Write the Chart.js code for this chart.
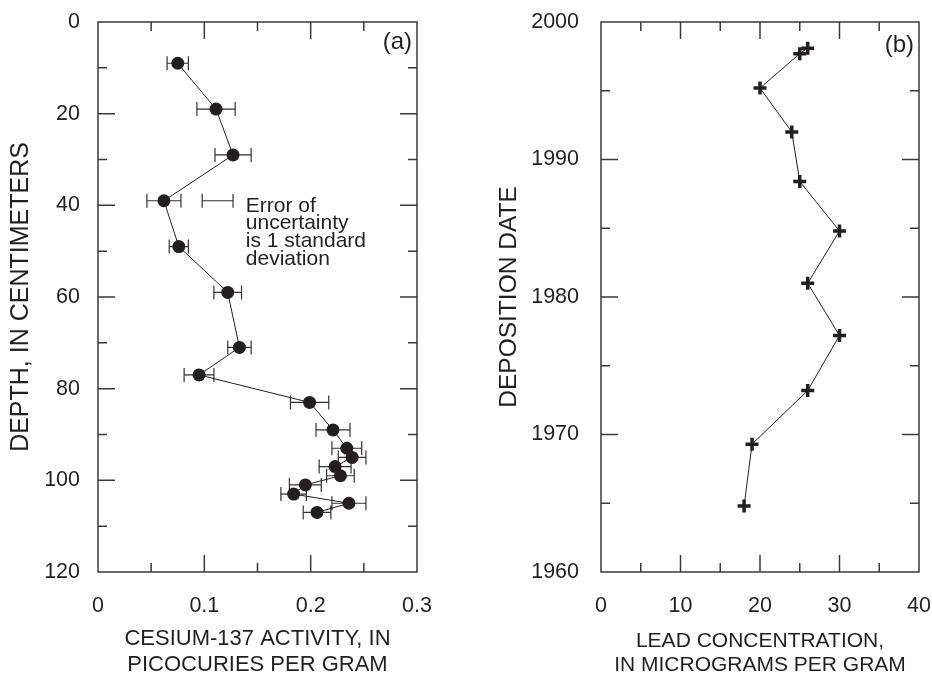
<!DOCTYPE html>
<html>
<head>
<meta charset="utf-8">
<script src="https://cdn.jsdelivr.net/npm/chart.js@4.4.1/dist/chart.umd.min.js"></script>
<style>
  body { margin: 0; background: #fff; }
  .panel { position: absolute; top: 0; width: 466px; height: 681px; }
</style>
</head>
<body>
<div class="panel" style="left:0"><canvas id="cesium"></canvas></div>
<div class="panel" style="left:466px"><canvas id="lead"></canvas></div>
<script>
// panel (a): cesium-137 profile
const cesiumDepth = [9, 19, 29, 39, 49, 59, 71, 77, 83, 89, 93, 95, 97, 99, 101, 103, 105, 107]
const cesiumActivity = [0.075, 0.111, 0.127, 0.062, 0.076, 0.122, 0.133, 0.095, 0.199, 0.221, 0.234, 0.239, 0.223, 0.228, 0.195, 0.184, 0.236, 0.206]
const cesiumError = [0.010, 0.018, 0.017, 0.016, 0.009, 0.013, 0.011, 0.014, 0.018, 0.016, 0.014, 0.013, 0.015, 0.013, 0.015, 0.012, 0.016, 0.013]
// sample error bar drawn next to the note
const noteBar = {x: 0.1125, y: 39, err: 0.0145}
const noteLines = ['Error of', 'uncertainty', 'is 1 standard', 'deviation']

// panel (b): lead profile
const leadConcentration = [26, 25, 20, 24, 25, 30, 26, 30, 26, 19, 18]
const depositionYear = [1998.1, 1997.7, 1995.2, 1992, 1988.4, 1984.8, 1981, 1977.2, 1973.2, 1969.3, 1964.8]

const ink = '#231f20'
const font = "'Liberation Sans', Arial, Helvetica, sans-serif"

Chart.defaults.font.family = font
Chart.defaults.color = ink

// frame on four sides plus inward ticks, like the printed figure
const frameTicks = {
  id: 'frameTicks',
  afterDatasetsDraw(chart, args, o) {
    const {ctx, chartArea: a, scales: {x, y}} = chart
    ctx.save()
    ctx.strokeStyle = '#3a3a3a'
    ctx.lineWidth = 1.5
    ctx.strokeRect(a.left, a.top, a.right - a.left, a.bottom - a.top)
    const isMajor = (v, m) => Math.abs(v / m - Math.round(v / m)) < 1e-6
    ctx.beginPath()
    for (let i = 1; x.min + i * o.xMinor < x.max - 1e-9; i++) {
      const v = x.min + i * o.xMinor
      const px = x.getPixelForValue(v)
      const len = isMajor(v, o.xMajor) ? 17 : 9
      ctx.moveTo(px, a.bottom); ctx.lineTo(px, a.bottom - len)
      ctx.moveTo(px, a.top); ctx.lineTo(px, a.top + len)
    }
    for (let i = 1; y.min + i * o.yMinor < y.max - 1e-9; i++) {
      const v = y.min + i * o.yMinor
      const py = y.getPixelForValue(v)
      const len = isMajor(v, o.yMajor) ? 17 : 9
      ctx.moveTo(a.left, py); ctx.lineTo(a.left + len, py)
      ctx.moveTo(a.right, py); ctx.lineTo(a.right - len, py)
    }
    ctx.stroke()
    ctx.fillStyle = ink
    ctx.font = '24px ' + font
    ctx.textAlign = 'right'
    ctx.textBaseline = 'middle'
    ctx.fillText(o.label, a.right - 5, a.top + o.labelDy)
    ctx.restore()
  }
}

// horizontal error bars with caps for panel (a)
const errorBars = {
  id: 'errorBars',
  beforeDatasetsDraw(chart) {
    const {ctx, scales: {x, y}} = chart
    const bar = (cx, cy, e) => {
      const l = x.getPixelForValue(cx - e), r = x.getPixelForValue(cx + e), py = y.getPixelForValue(cy)
      ctx.moveTo(l, py); ctx.lineTo(r, py)
      ctx.moveTo(l, py - 7); ctx.lineTo(l, py + 7)
      ctx.moveTo(r, py - 7); ctx.lineTo(r, py + 7)
    }
    ctx.save()
    ctx.strokeStyle = '#333'
    ctx.lineWidth = 1.2
    ctx.beginPath()
    cesiumActivity.forEach((v, i) => bar(v, cesiumDepth[i], cesiumError[i]))
    bar(noteBar.x, noteBar.y, noteBar.err)
    ctx.stroke()
    ctx.fillStyle = ink
    ctx.font = '21px ' + font
    ctx.textAlign = 'left'
    ctx.textBaseline = 'alphabetic'
    const tx = x.getPixelForValue(0.139), ty = y.getPixelForValue(41.4)
    noteLines.forEach((t, i) => ctx.fillText(t, tx, ty + i * 17.6))
    ctx.restore()
  }
}

function panelOptions(cfg) {
  return {
    responsive: true,
    maintainAspectRatio: false,
    animation: false,
    layout: {padding: {left: 0, right: cfg.padRight, top: 22, bottom: 0}},
    plugins: {
      legend: {display: false},
      tooltip: {enabled: false},
      frameTicks: cfg.frame
    },
    scales: {
      x: {
        type: 'linear',
        min: cfg.xMin, max: cfg.xMax,
        afterFit(s) { s.height = 109; s.paddingLeft = 0; s.paddingRight = 0 },
        grid: {display: false, drawTicks: false},
        border: {display: false},
        ticks: {stepSize: cfg.xStep, padding: 21, font: {size: 21.5}, color: ink, callback: cfg.xFormat},
        title: {display: true, text: cfg.xTitle, font: {size: cfg.xTitleSize, lineHeight: 1.18}, color: ink, padding: {top: 0, bottom: 3}}
      },
      y: {
        type: 'linear',
        min: cfg.yMin, max: cfg.yMax,
        reverse: cfg.reverse,
        afterFit(s) { s.width = cfg.yWidth; s.paddingTop = 0; s.paddingBottom = 0 },
        grid: {display: false, drawTicks: false},
        border: {display: false},
        ticks: {stepSize: cfg.yStep, padding: cfg.yPad, font: {size: 21.5}, color: ink, callback: v => String(v)},
        title: {display: true, text: cfg.yTitle, font: {size: cfg.yTitleSize, lineHeight: 1.2}, color: ink, padding: {top: cfg.yTitlePad, bottom: 0}}
      }
    }
  }
}

new Chart(document.getElementById('cesium'), {
  type: 'scatter',
  data: {
    datasets: [{
      data: cesiumActivity.map((v, i) => ({x: v, y: cesiumDepth[i]})),
      showLine: true,
      borderColor: ink,
      borderWidth: 1,
      backgroundColor: ink,
      pointBackgroundColor: ink,
      pointBorderWidth: 0,
      pointRadius: 6.5
    }]
  },
  options: panelOptions({
    padRight: 49, yWidth: 98, yPad: 18, yTitlePad: 6,
    xMin: 0, xMax: 0.3, xStep: 0.1,
    yMin: 0, yMax: 120, yStep: 20, reverse: true,
    xFormat: v => v === 0 ? '0' : v.toFixed(1),
    xTitle: ['CESIUM-137 ACTIVITY, IN', 'PICOCURIES PER GRAM'], xTitleSize: 22,
    yTitle: 'DEPTH, IN CENTIMETERS', yTitleSize: 25,
    frame: {xMinor: 0.05, xMajor: 0.1, yMinor: 10, yMajor: 20, label: '(a)', labelDy: 20}
  }),
  plugins: [errorBars, frameTicks]
})

new Chart(document.getElementById('lead'), {
  type: 'scatter',
  data: {
    datasets: [{
      data: leadConcentration.map((v, i) => ({x: v, y: depositionYear[i]})),
      showLine: true,
      borderColor: ink,
      borderWidth: 1,
      pointStyle: 'cross',
      pointBorderColor: ink,
      pointBorderWidth: 3.5,
      pointRadius: 6.5
    }]
  },
  options: panelOptions({
    padRight: 13, yWidth: 135, yPad: 22, yTitlePad: 29,
    xMin: 0, xMax: 40, xStep: 10,
    yMin: 1960, yMax: 2000, yStep: 10, reverse: false,
    xFormat: v => String(v),
    xTitle: ['LEAD CONCENTRATION,', 'IN MICROGRAMS PER GRAM'], xTitleSize: 21,
    yTitle: 'DEPOSITION DATE', yTitleSize: 24.5,
    frame: {xMinor: 5, xMajor: 10, yMinor: 5, yMajor: 10, label: '(b)', labelDy: 23}
  }),
  plugins: [frameTicks]
})
</script>
</body>
</html>
